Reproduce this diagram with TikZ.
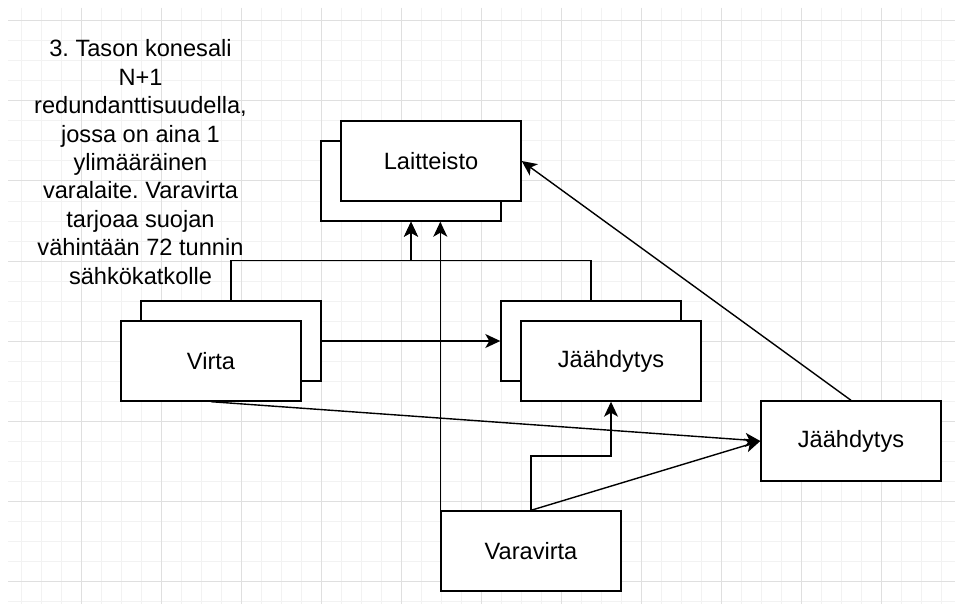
\documentclass[tikz,border=0pt]{standalone}
\usepackage{fontspec}
\setmainfont{Liberation Sans}
\usetikzlibrary{arrows.meta}
\frenchspacing
\begin{document}
\begin{tikzpicture}[x=1pt,y=-1pt,
  box/.style={draw=black, fill=white, line width=1.4pt, minimum width=180pt, minimum height=80pt, inner sep=0pt, font=\fontsize{23.6}{28.4}\selectfont},
  arr/.style={line width=1.4pt, -{Stealth[length=15pt,width=14pt,inset=4pt]}},
  minorgrid/.style={draw=gray!10, line width=1pt},
  majorgrid/.style={draw=gray!25, line width=1pt},
  lbl/.style={align=center, font=\fontsize{23.6}{28.4}\selectfont, inner sep=0pt}
]
\useasboundingbox (0,0) rectangle (955,604);
\fill[white] (0,0) rectangle (955,604);
% grid
\foreach \i in {1,...,47} \draw[minorgrid] (1+20*\i,8) -- (1+20*\i,604);
\foreach \j in {0,...,29} \draw[minorgrid] (8,21+20*\j) -- (955,21+20*\j);
\foreach \i in {1,...,11} \draw[majorgrid] (1+80*\i,8) -- (1+80*\i,604);
\foreach \j in {0,...,7} \draw[majorgrid] (8,21+80*\j) -- (955,21+80*\j);
% text
\node[lbl] (note) at (140.5,162) {3. Tason konesali\\N+1\\redundanttisuudella,\\jossa on aina 1\\ylimääräinen\\varalaite. Varavirta\\tarjoaa suojan\\vähintään 72 tunnin\\sähkökatkolle};
% boxes
\node[box] (laitb) at (411,181) {};
\node[box] (lait) at (431,161) {Laitteisto};
\node[box] (virtab) at (231,341) {};
\node[box] (virta) at (211,361) {Virta};
\node[box] (jaab) at (591,341) {};
\node[box] (jaa) at (611,361) {Jäähdytys};
\node[box] (jaa2) at (851,441) {Jäähdytys};
\node[box] (vara) at (531,551) {Varavirta};
% connectors
\draw[arr] (virtab.north) -- ++(0,-40) -| (laitb.south);
\draw[arr] (jaab.north) -- ++(0,-40) -| (laitb.south);
\draw[arr] (virtab.east) -- (jaab.west);
\draw[arr] (vara.north west) -- (vara.north west |- laitb.south);
\draw[arr] (vara.north) -- ++(0,-54.3) -| (jaa.south);
\draw[arr] (vara.north) -- (jaa2.west);
\draw[arr] (virta.south) -- (jaa2.west);
\draw[arr] (jaa2.north) -- (lait.east);
\end{tikzpicture}
\end{document}
